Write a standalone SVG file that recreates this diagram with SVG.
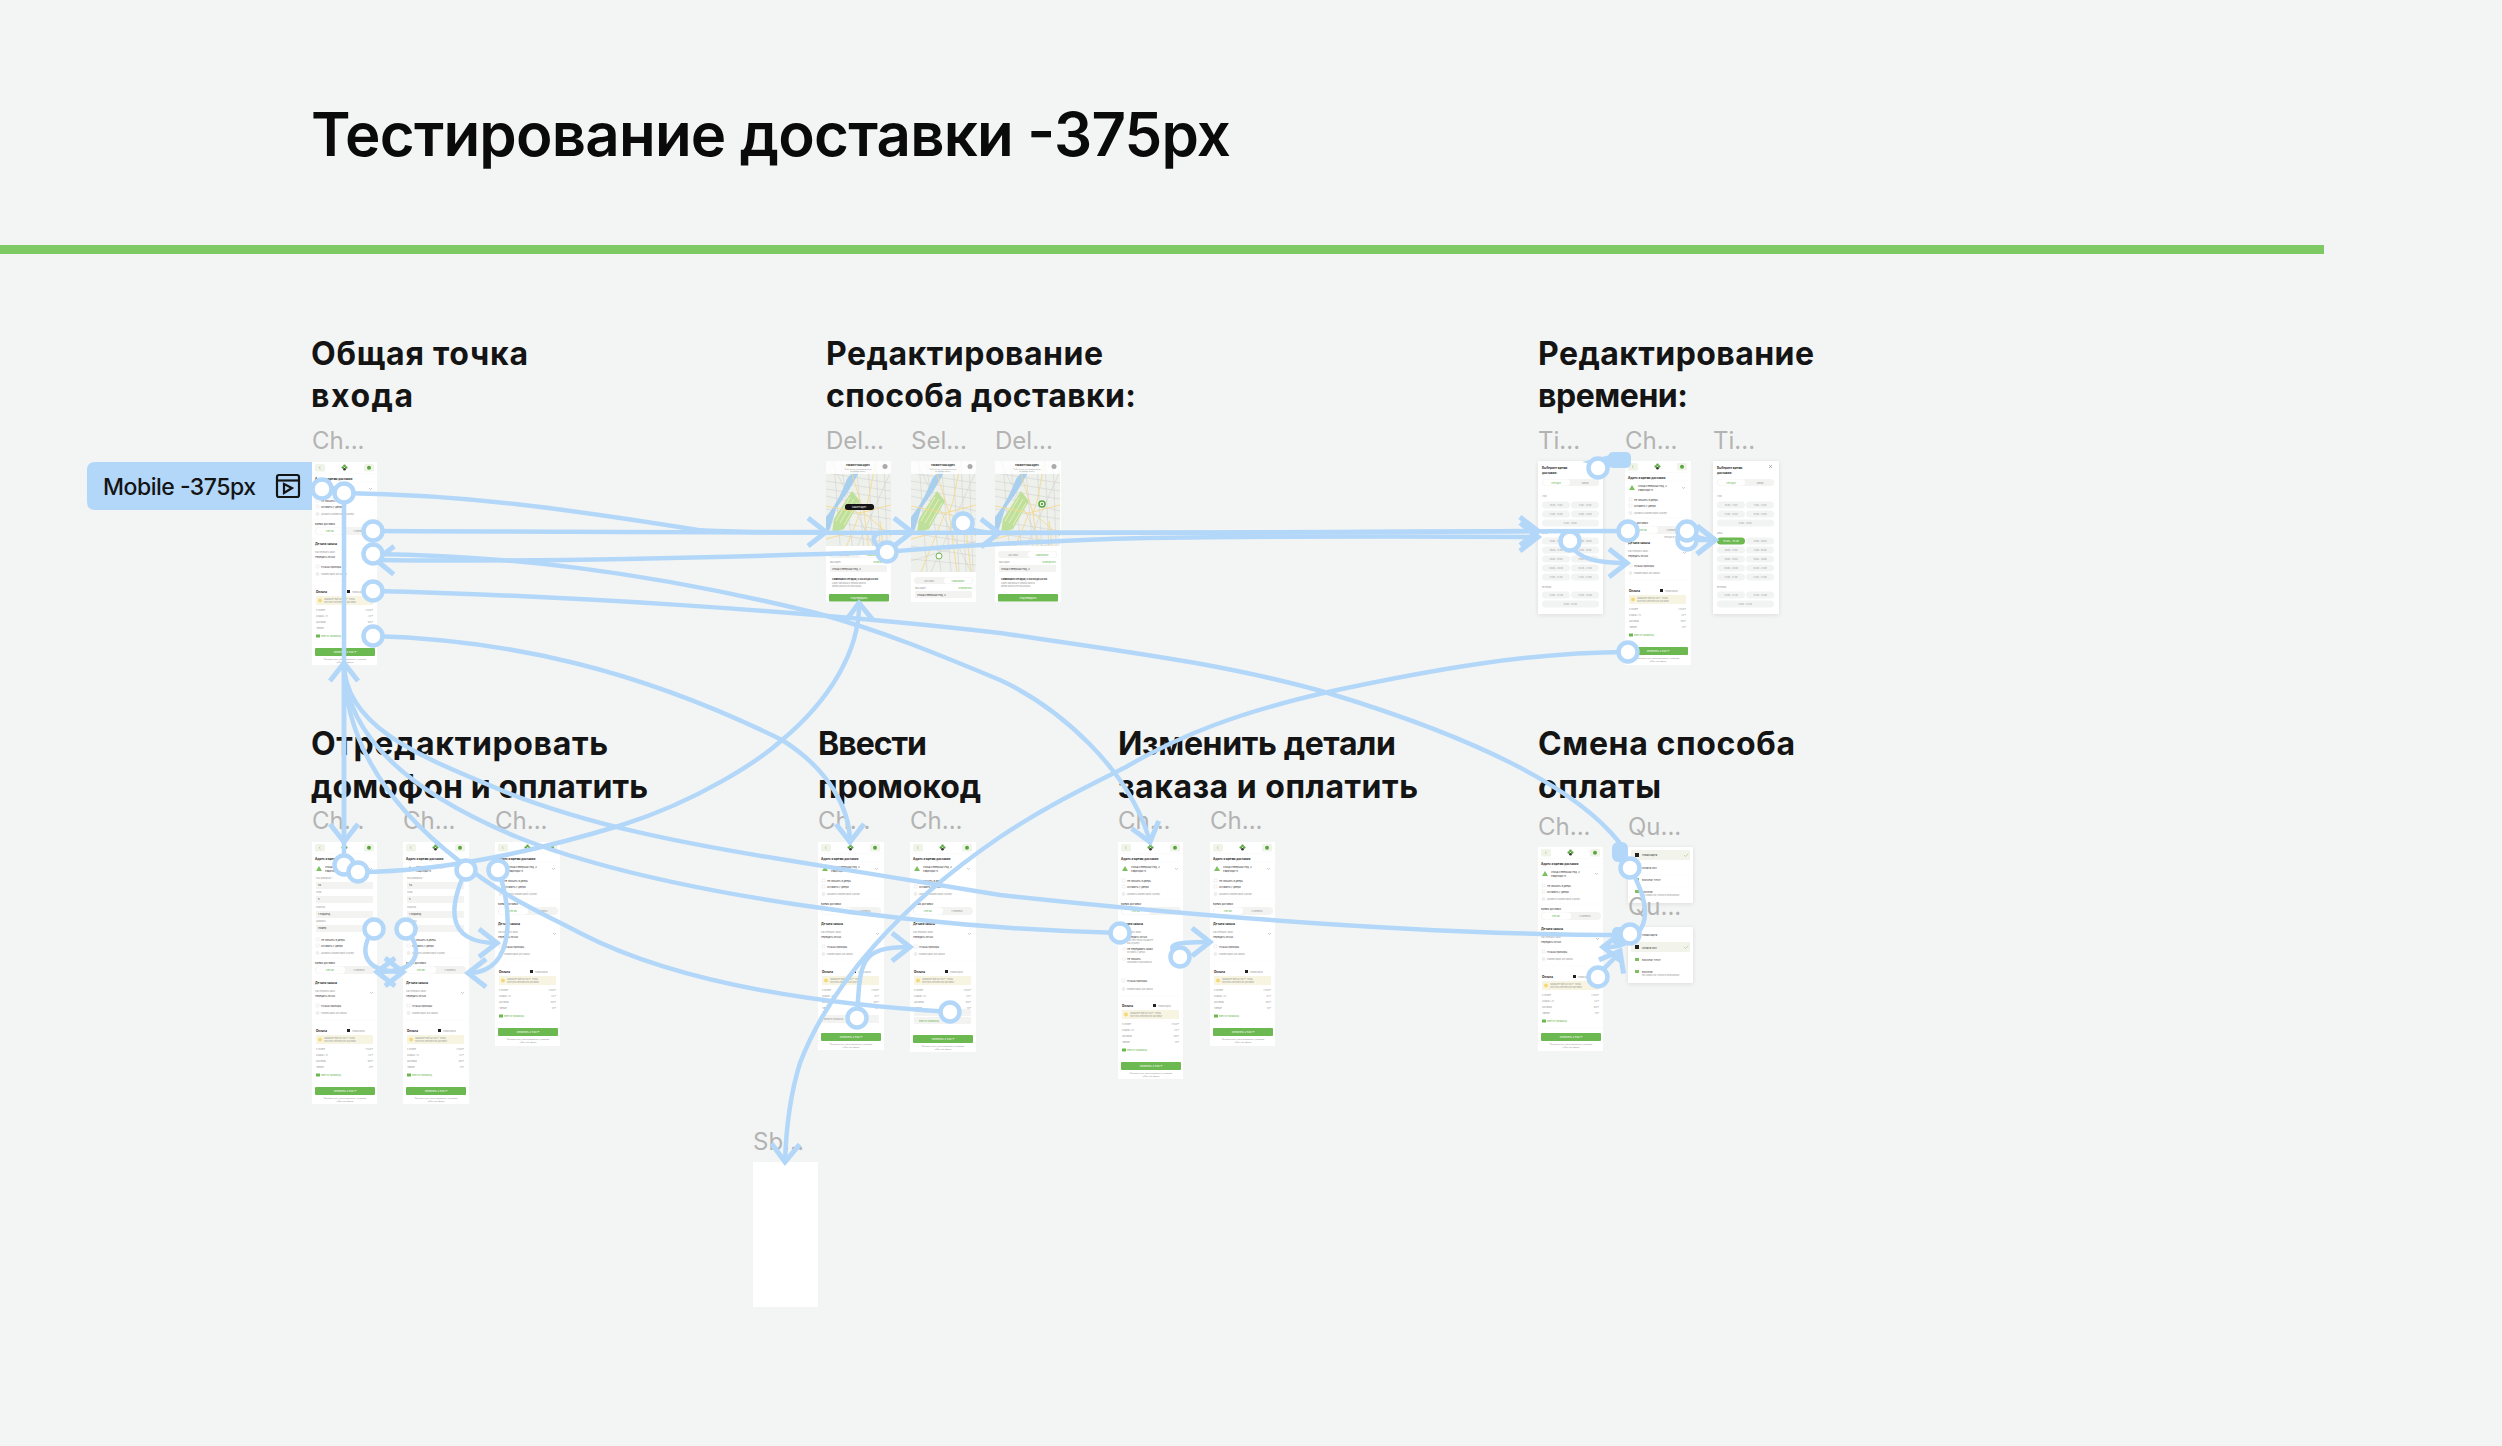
<svg xmlns="http://www.w3.org/2000/svg" width="2502" height="1446" viewBox="0 0 2502 1446">
<style>
text{font-family:Inter,"Noto Sans","Liberation Sans",sans-serif}
.title{font-size:60px;font-weight:600;fill:#0a0a0a}
.h{font-size:32px;font-weight:700;fill:#141414}
.lb{font-size:24px;fill:#b3b3b3}
.t{font-size:2.5px;fill:#333}
.b{font-size:3px;font-weight:700;fill:#222}
.g{font-size:2.1px;fill:#999}
.gr{font-size:2.3px;fill:#6cb851}
.w{font-size:2.6px;fill:#fff}
.c{text-anchor:middle}
.e{text-anchor:end}
.fr{fill:#fff}
.sh{filter:url(#shadow)}
.sep{stroke:#f0f0f0;stroke-width:.5;stroke-dasharray:1 1;fill:none}
.ck{fill:#fff;stroke:#ddd;stroke-width:.4}
.fld{fill:#f3f4f2}
.btn{fill:#6cb851}
.slot{fill:#f2f3f3}
.cn{fill:none;stroke:#b3d7f9;stroke-width:4.5;stroke-linecap:round;stroke-linejoin:round}
.ar{marker-end:url(#arr)}
.dot{fill:#fff;stroke:#b3d7f9;stroke-width:4.5}
.blob{fill:#b3d7f9}
.rd{fill:none;stroke:#f5d98e;stroke-width:.9}
.st{fill:none;stroke:#c4c4c2;stroke-width:.4}
</style>
<defs>
<filter id="shadow" x="-20%" y="-20%" width="140%" height="140%"><feDropShadow dx="0" dy="1" stdDeviation="2" flood-color="#000" flood-opacity=".1"/></filter>
<marker id="arr" markerUnits="userSpaceOnUse" markerWidth="30" markerHeight="36" viewBox="-20 -16 24 32" refX="0" refY="0" orient="auto"><path d="M-16,-12.500L0,0L-16,12.500" fill="none" stroke="#b3d7f9" stroke-width="4.500"/></marker>
<g id="hdr">
<rect x="3" y="2" width="10" height="7.500" rx="1.500" fill="#eff3e8"/><path d="M8.500,4.500L7,5.700L8.500,7" fill="none" stroke="#8fb878" stroke-width=".5"/>
<circle cx="32.500" cy="3.800" r="1.300" fill="#5aa63f"/><circle cx="30.800" cy="5.500" r="1.300" fill="#5aa63f"/><circle cx="34.200" cy="5.500" r="1.300" fill="#5aa63f"/><circle cx="32.500" cy="7.200" r="1.300" fill="#333"/>
<rect x="52" y="2" width="10" height="7.500" rx="1.500" fill="#eff3e8"/><circle cx="57" cy="5.700" r="2" fill="#5aa63f"/>
<path class="sep" d="M0,11.500H65"/></g>
<g id="addr">
<text class="b" x="3" y="17.500">Адрес и время доставки</text>
<path class="sep" d="M2,20H63"/>
<path d="M7,24l3,5h-6z" fill="#7cc060"/>
<text class="t" x="13" y="26">Улица Северный Ряд, 2</text><text class="t" x="13" y="30">Квартира 15</text>
<path d="M57,26l1.500,1.500l1.500-1.500" fill="none" stroke="#999" stroke-width=".5"/></g>
<g id="checks">
<rect class="ck" x="4" y="37" width="3" height="3"/><text class="t" x="9" y="39.500">Не звонить в дверь</text>
<rect class="ck" x="4" y="43" width="3" height="3"/><text class="t" x="9" y="45.500">Оставить у двери</text>
<circle cx="5.500" cy="52" r="2" fill="#eee"/><text class="g" x="9" y="53">Добавить комментарий курьеру</text>
<path class="sep" d="M2,57H63"/></g>
<g id="form">
<text class="g" x="4" y="37">Код домофона, *</text><rect class="fld" x="4" y="40" width="57" height="7"/><text class="t" x="6" y="44">54</text>
<text class="g" x="4" y="51">Этаж</text><rect class="fld" x="4" y="54" width="57" height="7"/><text class="t" x="6" y="58">5</text>
<text class="g" x="4" y="66">Подъезд</text><rect class="fld" x="4" y="69" width="57" height="7"/><text class="t" x="6" y="73">1 подъезд</text>
<text class="g" x="4" y="80">Домофон</text><rect class="fld" x="4" y="83" width="57" height="7"/><text class="t" x="6" y="87">Номер</text></g>
<g id="time">
<text class="t" x="3" y="63">Время доставки:</text>
<rect class="fld" x="3" y="65" width="60" height="8" rx="4"/><rect class="fr" x="4" y="65.500" width="29" height="7" rx="3.500"/>
<text class="gr c" x="18" y="70">Сейчас</text><text class="g c" x="47" y="70">К времени</text></g>
<g id="details">
<text class="b" x="3" y="83">Детали заказа</text>
<text class="g" x="3" y="91">Как передать заказ</text><text class="t" x="3" y="96">Передать лично</text>
<path d="M58,91l1.500,1.500l1.500-1.500" fill="none" stroke="#999" stroke-width=".5"/>
<rect class="ck" x="4" y="103" width="3" height="3"/><text class="t" x="9" y="105.500">Нужны приборы</text>
<circle cx="5.500" cy="112" r="2" fill="#eee"/><text class="g" x="9" y="113">Комментарий для заказа</text>
<path class="sep" d="M2,119H63"/></g>
<g id="details2">
<text class="b" x="3" y="83">Детали заказа</text>
<text class="g" x="3" y="91">Как передать заказ</text>
<circle cx="6" cy="95" r="1.500" fill="#6cb851"/><text class="t" x="9" y="96">Передать лично</text>
<text class="g" x="9" y="99">При получении покажите</text><text class="g" x="9" y="102">код курьеру</text>
<circle cx="6" cy="107" r="1.500" class="ck"/><text class="t" x="9" y="108">Не передавать заказ</text>
<text class="g" x="9" y="111">Оставить у двери</text>
<circle cx="6" cy="117" r="1.500" class="ck"/><text class="t" x="9" y="118">Не звонить</text><text class="g" x="9" y="121">Напишем в приложении</text>
<rect class="ck" x="4" y="137" width="3" height="3"/><text class="t" x="9" y="139.500">Нужны приборы</text>
<circle cx="5.500" cy="147" r="2" fill="#eee"/><text class="g" x="9" y="148">Комментарий для заказа</text>
<path class="sep" d="M2,154H63"/></g>
<g id="pay">
<text class="b" x="4" y="131">Оплата</text>
<rect x="35" y="128" width="3" height="3" fill="#222"/><text class="g" x="40" y="130.500">Новая карта</text>
<rect x="4" y="134" width="57" height="9" rx="1" fill="#f7f5e1"/><circle cx="8" cy="138.500" r="2" fill="#f4d978"/>
<text class="g" x="12" y="138">Закажите ещё на 100 ₽, чтобы</text><text class="g" x="12" y="141">получить бесплатную доставку</text></g>
<g id="rows">
<text class="g" x="4" y="149">К оплате</text><text class="g e" x="61" y="149">2 540 ₽</text>
<text class="g" x="4" y="155">Скидка +1%</text><text class="g e" x="61" y="155">-24 ₽</text>
<text class="g" x="4" y="161">Доставка</text><text class="g e" x="61" y="161">100 ₽</text>
<text class="g" x="4" y="167">Чаевые</text><text class="g e" x="61" y="167">10 ₽</text></g>
<g id="promo"><rect x="4" y="172.500" width="4" height="3" fill="#6cb851"/><text class="gr" x="9" y="175">Ввести промокод</text><path class="sep" d="M0,181H65"/></g>
<g id="btn"><rect class="btn" x="3" y="186" width="60" height="8" rx="1"/><text class="w c" x="33" y="191">Оплатить   2 540 ₽</text>
<text class="g c" x="33" y="197.500" style="font-size:1.8px">Нажимая кнопку, вы соглашаетесь с условиями</text><text class="g c" x="33" y="200.500" style="font-size:1.8px">публичной оферты</text></g>
<g id="stdtop"><use href="#hdr"/><use href="#addr"/><use href="#checks"/><use href="#time"/></g>
<g id="std"><use href="#stdtop"/><use href="#details"/><use href="#pay"/><use href="#rows"/><use href="#promo"/><use href="#btn"/></g>
<g id="longf"><use href="#hdr"/><use href="#addr"/><use href="#form"/><use href="#checks" transform="translate(0,59)"/><use href="#time" transform="translate(0,59)"/><use href="#details" transform="translate(0,59)"/><use href="#pay" transform="translate(0,59)"/><use href="#rows" transform="translate(0,59)"/><use href="#promo" transform="translate(0,59)"/><use href="#btn" transform="translate(0,59)"/></g>
<clipPath id="mc"><rect width="65" height="111"/></clipPath>
<g id="map" clip-path="url(#mc)">
<rect width="65" height="111" fill="#eef0ec"/>
<path class="st" d="M0,12L65,22M0,20L65,30M0,28L65,38M0,35L65,50M0,48L65,58M0,60L65,70M0,72L65,82M0,85L65,95M0,98L65,104M8,0L16,111M15,0L30,111M30,0L40,111M42,0L48,111M50,0L55,111M58,0L62,111M0,100L65,80M5,0L60,111M65,10L20,111"/>
<path d="M0,56C8,46 14,36 21,18L29,8L33,11C27,24 17,38 10,48L4,68L0,72Z" fill="#a9cfef"/>
<path d="M8,58L26,30L34,40L18,68L6,72Z" fill="#bfe09a"/>
<path d="M10,60L24,36M14,62L28,38M18,64L31,42" stroke="#eef3c8" stroke-width=".8" fill="none"/>
<path class="rd" d="M0,45L34,52L65,44M22,0L38,52L46,111M34,52L10,111M50,0L42,40L38,52M38,52L65,75M0,78L30,70M54,60L60,111"/>
<rect width="65" height="13" fill="#fff" opacity=".82"/>
<text class="c" x="32" y="5" style="font-size:2.4px;font-weight:700;fill:#222">Укажите ваш адрес</text>
<text class="g c" x="32" y="8.500" style="font-size:1.7px">Чтобы узнать, доставляем ли мы</text><text class="g c" x="32" y="11" style="font-size:1.7px">по вашему адресу</text>
<circle cx="59" cy="5.500" r="2.500" fill="#aaa"/></g>
<g id="panel">
<rect class="fld" x="3" y="2" width="59" height="7" rx="3.500"/><rect class="fr" x="33" y="2.500" width="28" height="6" rx="3"/>
<text class="g c" x="18" y="6.500">Доставка</text><text class="gr c" x="47" y="6.500">Самовывоз</text>
<text class="g" x="4" y="14">Ваш адрес</text><text class="gr e" x="61" y="14">Определить</text>
<rect class="fld" x="4" y="16" width="57" height="7" rx="1"/><text class="t" x="6" y="20.500">Улица Северный Ряд, 2</text></g>
<g id="mapend">
<text class="b" x="6" y="31" style="font-size:2.4px">Самовывоз сегодня, с 09:00 до 22:00</text>
<text class="g" x="6" y="35">Адрес магазина и режим работы</text><text class="g" x="6" y="38">время работы без выходных</text>
<rect class="btn" x="3" y="45" width="60" height="7.500" rx="1"/><text class="w c" x="33" y="50">Подтвердить</text></g>
<g id="slots">
<rect class="fr" x="5" y="18.500" width="27" height="6" rx="3"/>
<text class="g" x="4" y="36">Утро</text>
<text class="g" x="4" y="73">День</text>
<text class="g" x="4" y="127">Вечером</text>
<g id="sl"><rect class="slot" x="4" y="40.500" width="28" height="7" rx="3.500"/><rect class="slot" x="33" y="40.500" width="28" height="7" rx="3.500"/><rect class="slot" x="4" y="49.500" width="28" height="7" rx="3.500"/><rect class="slot" x="33" y="49.500" width="28" height="7" rx="3.500"/><rect class="slot" x="4" y="58.500" width="57" height="7" rx="3.500"/></g>
<g id="sla"><rect class="slot" x="33" y="76.500" width="28" height="7" rx="3.500"/><rect class="slot" x="4" y="85.500" width="28" height="7" rx="3.500"/><rect class="slot" x="33" y="85.500" width="28" height="7" rx="3.500"/><rect class="slot" x="4" y="94.500" width="28" height="7" rx="3.500"/><rect class="slot" x="33" y="94.500" width="28" height="7" rx="3.500"/><rect class="slot" x="4" y="103.500" width="28" height="7" rx="3.500"/><rect class="slot" x="33" y="103.500" width="28" height="7" rx="3.500"/><rect class="slot" x="4" y="112.500" width="28" height="7" rx="3.500"/><rect class="slot" x="33" y="112.500" width="28" height="7" rx="3.500"/></g>
<rect class="slot" x="4" y="130.500" width="28" height="7" rx="3.500"/><rect class="slot" x="33" y="130.500" width="28" height="7" rx="3.500"/><rect class="slot" x="4" y="139.500" width="57" height="7" rx="3.500"/>
<text class="g c" x="18" y="45">10:00 – 11:00</text><text class="g c" x="47" y="45">11:00 – 12:00</text>
<text class="g c" x="18" y="54">12:00 – 13:00</text><text class="g c" x="47" y="54">13:00 – 14:00</text><text class="g c" x="32" y="63">14:00 – 15:00</text>
<text class="g c" x="47" y="81">15:00 – 16:00</text><text class="g c" x="18" y="90">16:00 – 17:00</text><text class="g c" x="47" y="90">17:00 – 18:00</text>
<text class="g c" x="18" y="99">18:00 – 19:00</text><text class="g c" x="47" y="99">19:00 – 20:00</text><text class="g c" x="18" y="108">20:00 – 20:30</text><text class="g c" x="47" y="108">20:30 – 21:00</text>
<text class="g c" x="18" y="117">21:00 – 21:30</text><text class="g c" x="47" y="117">21:30 – 22:00</text>
<text class="g c" x="18" y="135">22:00 – 22:30</text><text class="g c" x="47" y="135">22:30 – 23:00</text><text class="g c" x="32" y="144">23:00 – 23:30</text>
<text class="b" x="4" y="8">Выберите время</text><text class="b" x="4" y="13">доставки:</text>
</g>
<g id="tabbg"><rect class="fld" x="4" y="18" width="57" height="7" rx="3.500"/></g>
<g id="tabt"><text class="gr c" x="18" y="22.500">Сегодня</text><text class="g c" x="47" y="22.500">Завтра</text></g>
<g id="qrows">
<text class="t" x="14" y="21.500">Оплата СБП</text><rect x="7" y="19" width="4" height="3" fill="#7cc060"/>
<text class="t" x="14" y="34">BlockPay ТРОН</text><rect x="7" y="31" width="4" height="3" fill="#7cc060"/>
<text class="t" x="14" y="46">BlockPay</text><text class="g" x="14" y="49">Без комиссии, оплата в приложении</text><rect x="7" y="43" width="4" height="3" fill="#7cc060"/>
<path class="sep" d="M4,28H61M4,40H61"/></g>
</defs>
<rect width="2502" height="1446" fill="#f3f5f4"/>
<text class="title" x="311" y="156" textLength="920">Тестирование доставки -375px</text>
<rect id="rule" x="0" y="245" width="2324" height="9" fill="#7dc963"/>

<g id="mobile-tag">
<path d="M95,462H312V510H95Q87,510 87,502V470Q87,462 95,462Z" fill="#b3d7f9"/>
<text x="103" y="495" style="font-size:23px;font-weight:500;fill:#141414" textLength="153">Mobile -375px</text>
<g fill="none" stroke="#141414" stroke-width="2.200"><rect x="277" y="475" width="22" height="22" rx="2"/><path d="M277,480.500H299"/><path d="M284,484L292,488L284,493Z"/></g>
</g>

<g id="headings">
<text class="h" x="311" y="365" textLength="217">Общая точка</text><text class="h" x="311" y="407" textLength="102">входа</text>
<text class="h" x="826" y="365" textLength="277">Редактирование</text><text class="h" x="826" y="407" textLength="310">способа доставки:</text>
<text class="h" x="1538" y="365" textLength="276">Редактирование</text><text class="h" x="1538" y="407" textLength="150">времени:</text>
<text class="h" x="311" y="755" textLength="297">Отредактировать</text><text class="h" x="311" y="798" textLength="337">домофон и оплатить</text>
<text class="h" x="818" y="755" textLength="109">Ввести</text><text class="h" x="818" y="798" textLength="163">промокод</text>
<text class="h" x="1118" y="755" textLength="278">Изменить детали</text><text class="h" x="1118" y="798" textLength="300">заказа и оплатить</text>
<text class="h" x="1538" y="755" textLength="257">Смена способа</text><text class="h" x="1538" y="798" textLength="123">оплаты</text>
</g>

<g id="frame-entry" transform="translate(312,462)"><rect class="fr" width="65" height="203"/><use href="#std"/></g>
<text class="lb" x="312" y="449">Ch...</text>

<g id="frame-del1" transform="translate(826,461)"><rect class="fr" width="65" height="141"/><use href="#map"/><rect class="fr" y="85" width="65" height="56"/><use href="#panel" transform="translate(0,88)"/><rect x="19" y="43" width="29" height="6" rx="2.500" fill="#151515"/><text class="c" x="33" y="47" style="font-size:2px;fill:#fff">Укажите адрес</text><use href="#mapend" transform="translate(0,88)" /></g>
<text class="lb" x="826" y="449">Del...</text>
<g id="frame-sel" transform="translate(911,461)"><rect class="fr" width="65" height="141"/><use href="#map"/><rect class="fr" y="111" width="65" height="30"/><use href="#panel" transform="translate(0,114)"/><circle cx="28" cy="95" r="3" fill="#fff" stroke="#6cb851" stroke-width="1"/></g>
<text class="lb" x="911" y="449">Sel...</text>
<g id="frame-del2" transform="translate(995,461)"><rect class="fr" width="66" height="141"/><use href="#map"/><rect class="fr" y="85" width="65" height="56"/><use href="#panel" transform="translate(0,88)"/><circle cx="47" cy="43" r="3" fill="#fff" stroke="#5aa63f" stroke-width="1.500"/><circle cx="47" cy="43" r="1.200" fill="#5aa63f"/><use href="#mapend" transform="translate(0,88)"/></g>
<text class="lb" x="995" y="449">Del...</text>

<g id="frame-time1" transform="translate(1538,461)"><rect class="fr sh" width="65" height="153"/><use href="#tabbg"/><use href="#slots"/><rect class="slot" x="4" y="76.500" width="28" height="7" rx="3.500"/><text class="g c" x="18" y="81">15:00 – 15:30</text><use href="#tabt"/></g>
<text class="lb" x="1538" y="449">Ti...</text>
<g id="frame-time-check" transform="translate(1625,461)"><rect class="fr" width="66" height="204"/><use href="#std"/><text class="g c" x="47" y="77">Сегодня в 15:00</text></g>
<text class="lb" x="1625" y="449">Ch...</text>
<g id="frame-time2" transform="translate(1713,461)"><rect class="fr sh" width="66" height="153"/><use href="#tabbg"/><use href="#slots"/><rect class="btn" x="4" y="76.500" width="28" height="7" rx="3.500"/><text class="w c" x="18" y="81">15:00 – 15:30</text><use href="#tabt"/><path d="M56,4l3,3M59,4l-3,3" stroke="#777" stroke-width=".5"/></g>
<text class="lb" x="1713" y="449">Ti...</text>

<g id="frame-door1" transform="translate(312,842)"><rect class="fr" width="65" height="262"/><use href="#longf"/></g>
<text class="lb" x="312" y="829">Ch...</text>
<g id="frame-door2" transform="translate(403,842)"><rect class="fr" width="66" height="262"/><use href="#longf"/></g>
<text class="lb" x="403" y="829">Ch...</text>
<g id="frame-door3" transform="translate(495,842)"><rect class="fr" width="65" height="204"/><use href="#std"/></g>
<text class="lb" x="495" y="829">Ch...</text>

<g id="frame-promo1" transform="translate(818,842)"><rect class="fr" width="66" height="208"/><use href="#stdtop"/><use href="#details"/><use href="#pay"/><use href="#rows"/><rect class="fld" x="4" y="173" width="57" height="8" rx="1"/><text class="g" x="6" y="178">Введите промокод</text><use href="#btn" transform="translate(0,5)"/></g>
<text class="lb" x="818" y="829">Ch...</text>
<g id="frame-promo2" transform="translate(910,842)"><rect class="fr" width="66" height="210"/><use href="#stdtop"/><use href="#details"/><use href="#pay"/><use href="#rows"/><rect class="fld" x="4" y="167" width="57" height="7" rx="1"/><text class="gr" x="30" y="172">Промокод</text><rect class="fld" x="4" y="175" width="57" height="7" rx="1"/><text class="gr" x="9" y="180">Ввести промокод</text><use href="#btn" transform="translate(0,7)"/></g>
<text class="lb" x="910" y="829">Ch...</text>

<g id="frame-det1" transform="translate(1118,842)"><rect class="fr" width="65" height="237"/><use href="#stdtop"/><use href="#details2"/><use href="#pay" transform="translate(0,34)"/><use href="#rows" transform="translate(0,34)"/><use href="#promo" transform="translate(0,34)"/><use href="#btn" transform="translate(0,34)"/></g>
<text class="lb" x="1118" y="829">Ch...</text>
<g id="frame-det2" transform="translate(1210,842)"><rect class="fr" width="65" height="204"/><use href="#std"/></g>
<text class="lb" x="1210" y="829">Ch...</text>

<g id="frame-pay" transform="translate(1538,847)"><rect class="fr" width="65" height="204"/><use href="#std"/></g>
<text class="lb" x="1538" y="835">Ch...</text>
<g id="frame-quick1" transform="translate(1628,847)"><rect class="fr sh" width="65" height="56" rx="1"/><rect x="3" y="3" width="59" height="10" fill="#f2f3ea"/><rect x="7" y="6" width="4" height="4" fill="#222"/><text class="t" x="14" y="9">Новая карта</text><path d="M56,8l1.500,1.500l3-3" fill="none" stroke="#8fc06f" stroke-width=".5"/><use href="#qrows"/></g>
<text class="lb" x="1628" y="835">Qu...</text>
<g id="frame-quick2" transform="translate(1628,927)"><rect class="fr sh" width="65" height="56" rx="1"/><text class="t" x="14" y="9">Новая карта</text><rect x="3" y="15" width="59" height="10" fill="#f2f3ea"/><rect x="7" y="18" width="4" height="4" fill="#222"/><text class="t" x="14" y="21.500">Оплата СБП</text><path d="M56,20l1.500,1.500l3-3" fill="none" stroke="#8fc06f" stroke-width=".5"/><text class="t" x="14" y="34">BlockPay ТРОН</text><rect x="7" y="31" width="4" height="3" fill="#7cc060"/><text class="t" x="14" y="46">BlockPay</text><text class="g" x="14" y="49">Без комиссии, оплата в приложении</text><rect x="7" y="43" width="4" height="3" fill="#7cc060"/></g>
<text class="lb" x="1628" y="915">Qu...</text>

<g id="frame-sb"><rect class="fr" x="753" y="1162" width="65" height="145"/></g>
<text class="lb" x="753" y="1150">Sb...</text>

<g id="connectors">
<g class="cn">
<path class="ar" d="M344,493C466,495 560,508 698,530C740,533 790,532 826,532"/>
<path class="ar" d="M373,531C700,532 1100,535 1538,531"/>
<path class="ar" d="M887,552C872,545 870,535 880,533C890,532 900,532 912,532"/>
<path class="ar" d="M963,523C964,530 985,533 999,533"/>
<path d="M1628,531C1400,532 1200,534 999,533"/>
<path class="ar" d="M887,552C950,546 1060,540 1147,538C1300,536 1420,536 1538,537"/>
<path class="ar" d="M887,552C700,558 500,562 376,560"/>
<path class="ar" d="M373,554C508,556 640,570 816,613C880,630 940,655 1000,680C1060,708 1130,770 1150,842"/>
<path d="M373,591C550,595 800,610 1000,633C1130,652 1230,665 1328,693C1450,730 1570,780 1619,842"/>
<path class="ar" d="M373,636C510,640 640,670 782,740C830,770 850,810 850,842"/>
<path class="ar" d="M1628,652C1530,652 1430,670 1328,692C1240,712 1180,735 1126,767C1080,790 1040,810 1000,837C900,905 830,985 800,1063C790,1095 786,1130 785,1162"/>
<path class="ar" d="M344,493L344,842"/>
<path class="ar" d="M344,865L344,663"/>
<path d="M951,1012C850,1006 690,990 580,933C540,912 500,895 458,860C400,815 344,750 344,663"/>
<path d="M1120,933C1000,930 900,920 800,905C700,890 600,870 517,837C440,805 344,750 344,663"/>
<path d="M1630,935C1450,935 1250,922 1000,895C920,882 860,872 786,860C680,843 590,825 508,793C430,760 344,730 344,663"/>
<path class="ar" d="M358,872C400,872 480,868 622,825C700,800 760,760 782,740C830,700 860,650 859,603"/>
<path class="ar" d="M374,929C362,945 356,972 403,972"/>
<path class="ar" d="M406,929C420,945 426,972 377,972"/>
<path class="ar" d="M466,870C452,900 440,943 497,943"/>
<path class="ar" d="M498,870C510,900 520,973 468,973"/>
<path class="ar" d="M857,1018C860,960 860,947 910,947"/>
<path class="ar" d="M1180,957C1165,945 1170,942 1210,942"/>
<path class="ar" d="M1570,541C1575,560 1600,563 1627,563"/>
<path class="ar" d="M1687,531C1695,537 1705,540 1715,540"/>
<path class="ar" d="M1687,540L1715,540"/>
<path class="ar" d="M1630,868C1648,900 1652,925 1630,940C1620,948 1610,947 1603,947"/>
<path class="ar" d="M1598,977C1605,965 1615,960 1620,951"/>
</g>
<rect class="blob" x="1608" y="452" width="23" height="16" rx="5"/><path class="blob" d="M1582,462L1610,455V468Z"/>
<rect class="blob" x="1612" y="842" width="16" height="20" rx="6"/>
<rect class="blob" x="1612" y="927" width="16" height="18" rx="5"/>
<circle class="dot" cx="322" cy="489" r="9.500"/>
<circle class="dot" cx="344" cy="493" r="9.500"/>
<circle class="dot" cx="373" cy="531" r="9.500"/>
<circle class="dot" cx="373" cy="554" r="9.500"/>
<circle class="dot" cx="373" cy="591" r="9.500"/>
<circle class="dot" cx="373" cy="636" r="9.500"/>
<circle class="dot" cx="887" cy="552" r="9.500"/>
<circle class="dot" cx="963" cy="523" r="9.500"/>
<circle class="dot" cx="1598" cy="468" r="9.500"/>
<circle class="dot" cx="1570" cy="541" r="9.500"/>
<circle class="dot" cx="1628" cy="531" r="9.500"/>
<circle class="dot" cx="1687" cy="540" r="9.500"/>
<circle class="dot" cx="1687" cy="531" r="9.500"/>
<circle class="dot" cx="1628" cy="652" r="9.500"/>
<circle class="dot" cx="344" cy="865" r="9.500"/>
<circle class="dot" cx="358" cy="872" r="9.500"/>
<circle class="dot" cx="466" cy="870" r="9.500"/>
<circle class="dot" cx="498" cy="870" r="9.500"/>
<circle class="dot" cx="374" cy="929" r="9.500"/>
<circle class="dot" cx="406" cy="929" r="9.500"/>
<circle class="dot" cx="857" cy="1018" r="9.500"/>
<circle class="dot" cx="950" cy="1012" r="9.500"/>
<circle class="dot" cx="1120" cy="933" r="9.500"/>
<circle class="dot" cx="1180" cy="957" r="9.500"/>
<circle class="dot" cx="1630" cy="868" r="9.500"/>
<circle class="dot" cx="1630" cy="934" r="9.500"/>
<circle class="dot" cx="1598" cy="977" r="9.500"/>
</g>
</svg>
